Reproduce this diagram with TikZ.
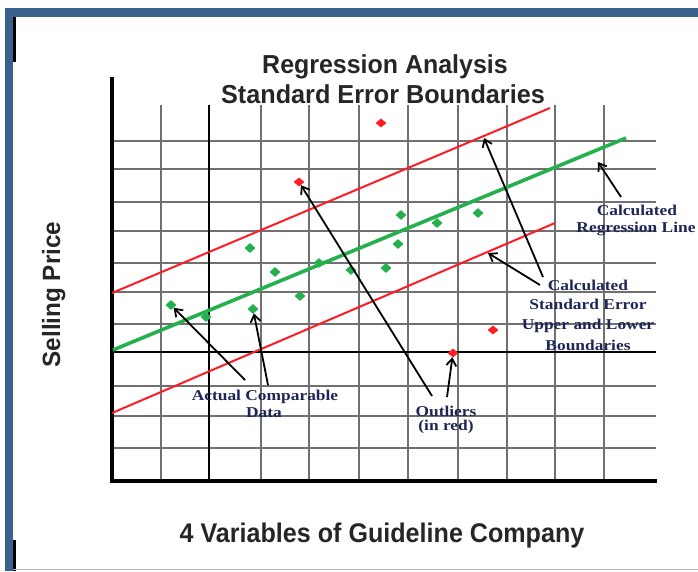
\documentclass[tikz,border=0pt]{standalone}
\usepackage{fontspec}
\setmainfont{Liberation Serif}
\setsansfont{Liberation Sans}
\usetikzlibrary{shapes.geometric,arrows.meta}
\definecolor{frameblue}{RGB}{58,96,142}
\definecolor{gridgray}{RGB}{112,112,112}
\definecolor{lblnavy}{RGB}{30,38,88}
\definecolor{regred}{RGB}{255,28,36}
\definecolor{reggreen}{RGB}{36,176,76}
\newcommand{\lblx}[1]{\scalebox{1.16}[1]{#1}}
\tikzset{
  gridline/.style={draw=gridgray, line width=2.6pt},
  darkgrid/.style={draw=black, line width=2pt},
  axisline/.style={draw=black, line width=3.8pt},
  redline/.style={draw=regred, line width=2pt},
  greenline/.style={draw=reggreen, line width=3.6pt},
  gdiam/.style={diamond, fill=reggreen, inner sep=0pt, minimum width=11pt, minimum height=10pt},
  rdiam/.style={diamond, fill=regred, inner sep=0pt, minimum width=11pt, minimum height=9pt},
  lbl/.style={text=lblnavy, font=\bfseries\fontsize{15}{18}\selectfont, inner sep=0pt, anchor=base},
  ttl/.style={text=black!85, font=\sffamily\bfseries\fontsize{26}{30}\selectfont, inner sep=0pt, anchor=base},
  ptr/.style={draw=black, line width=1.8pt, -{Straight Barb[length=7pt,width=10pt]}}
}
\begin{document}
\begin{tikzpicture}[x=1pt,y=-1pt]
\useasboundingbox (0,0) rectangle (698,571);
\fill[white] (0,0) rectangle (698,571);
% frame
\fill[frameblue] (5,8) rectangle (698,17);
\fill[frameblue] (5,8) rectangle (13,571);
\fill[black] (13,17) rectangle (16,62);
\fill[black] (13,540) rectangle (16,571);
\draw[gray!55, line width=1.2pt] (13,569.5) -- (698,569.5);
% grid
\foreach \x in {161,261,309,359,408,458,507,555,604}
  \draw[gridline] (\x,105) -- (\x,481);
\foreach \y in {141,169,202,231,263,292,324,386,416,448}
  \draw[gridline] (112,\y) -- (656,\y);
\draw[darkgrid] (209,105) -- (209,481);
\draw[darkgrid, line width=2.6pt] (112,352) -- (656,352);
% axes
\draw[axisline] (112,77) -- (112,483);
\draw[axisline] (110,481) -- (657,481);
% regression and boundaries
\draw[redline] (112,293) -- (550,108);
\draw[redline] (112,413) -- (555,223);
\draw[greenline] (113,350) -- (626,138);
% data
\node[gdiam] (g1) at (171,305) {};
\node[gdiam] (g2) at (206,317) {};
\node[gdiam] (g3) at (250,248) {};
\node[gdiam] (g4) at (275,272) {};
\node[gdiam] (g5) at (253,309) {};
\node[gdiam] (g6) at (300,296) {};
\node[gdiam] (g7) at (319,263) {};
\node[gdiam] (g8) at (351,270) {};
\node[gdiam] (g9) at (386,268) {};
\node[gdiam] (g10) at (398,244) {};
\node[gdiam] (g11) at (401,215) {};
\node[gdiam] (g12) at (437,223) {};
\node[gdiam] (g13) at (478,213) {};
\node[rdiam] (r1) at (381,123) {};
\node[rdiam] (r2) at (299,182) {};
\node[rdiam] (r3) at (493,330) {};
\node[rdiam] (r4) at (453,353) {};
% titles
\node[ttl] (t1) at (385,73) {\scalebox{0.96}[1]{Regression Analysis}};
\node[ttl] (t2) at (383,103) {\scalebox{0.97}[1]{Standard Error Boundaries}};
\node[ttl, font=\sffamily\bfseries\fontsize{27}{30}\selectfont] (xl) at (382,542) {\scalebox{0.93}[1]{4 Variables of Guideline Company}};
\node[ttl, font=\sffamily\bfseries\fontsize{25}{30}\selectfont, rotate=90] (yl) at (60,294.5) {\scalebox{0.97}[1]{Selling Price}};
% labels
\node[lbl] (rl1) at (637,215) {\lblx{Calculated}};
\node[lbl] (rl2) at (636,232) {\lblx{Regression Line}};
\node[lbl] (se1) at (588,290) {\lblx{Calculated}};
\node[lbl] (se2) at (588,309) {\lblx{Standard Error}};
\node[lbl] (se3) at (588,329) {\lblx{Upper and Lower}};
\node[lbl] (se4) at (588,350) {\lblx{Boundaries}};
\node[lbl] (ac1) at (265,400) {\lblx{Actual Comparable}};
\node[lbl] (ac2) at (264,417) {\lblx{Data}};
\node[lbl] (ol1) at (446,416) {\lblx{Outliers}};
\node[lbl] (ol2) at (446,430) {\lblx{(in red)}};
% arrow anchors
\coordinate (a1) at (432,396);
\coordinate (a2) at (447,397);
\coordinate (a3) at (245,380);
\coordinate (a4) at (268,385);
\coordinate (a5) at (543,277);
\coordinate (a6) at (540,285);
\coordinate (a7) at (621,197);
\coordinate (up) at (484,138);
\coordinate (lo) at (488,253);
\coordinate (rg) at (598,162);
\draw[ptr] (a1) -- (r2);
\draw[ptr] (a2) -- (r4);
\draw[ptr] (a3) -- (g1);
\draw[ptr] (a4) -- (g5);
\draw[ptr] (a5) -- (up);
\draw[ptr] (a6) -- (lo);
\draw[ptr] (a7) -- (rg);
\end{tikzpicture}
\end{document}
